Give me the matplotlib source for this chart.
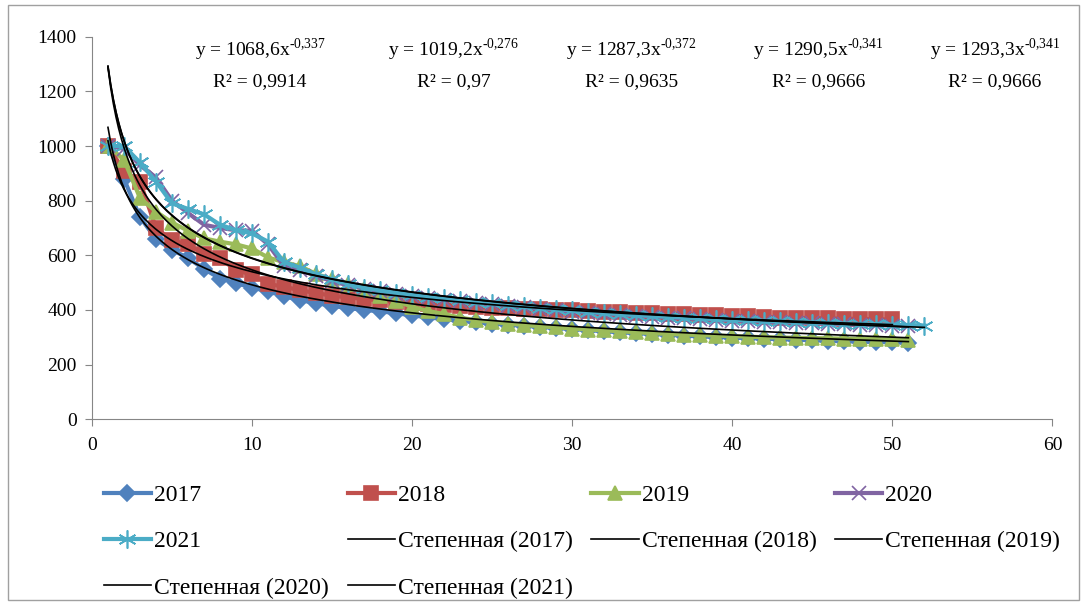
import numpy as np
import matplotlib
matplotlib.use('Agg')
from matplotlib import pyplot as plt
from matplotlib.patches import Rectangle

plt.rcParams['font.family'] = ['Liberation Serif', 'DejaVu Serif']
plt.rcParams['mathtext.fontset'] = 'custom'
plt.rcParams['mathtext.rm'] = 'Liberation Serif'

# weekly index values
y2017 = [1000, 880, 740, 660, 620, 590, 550, 515, 498, 482, 468, 450, 436, 425, 415, 407, 400, 395, 388, 380,
         373, 366, 360, 355, 350, 346, 342, 338, 334, 330, 326, 322, 318, 315, 312, 309, 306, 303, 301, 299,
         297, 295, 293, 291, 289, 287, 285, 284, 283, 281, 280]
y2018 = [1000, 910, 870, 700, 655, 640, 605, 590, 545, 530, 495, 485, 472, 462, 452, 446, 440, 435, 430, 425,
         420, 417, 414, 411, 408, 406, 404, 402, 400, 398, 396, 394, 392, 390, 388, 386, 384, 382, 380, 378,
         376, 374, 372, 371, 370, 369, 368, 367, 366, 365]
y2019 = [1000, 950, 810, 760, 720, 690, 662, 650, 640, 625, 592, 575, 560, 532, 512, 495, 475, 452, 432, 412,
         396, 385, 372, 362, 356, 350, 345, 340, 336, 332, 328, 325, 322, 318, 315, 312, 310, 308, 306, 304,
         302, 300, 299, 298, 297, 296, 295, 294, 293, 292, 290]
y2020 = [1000, 990, 930, 885, 800, 755, 712, 700, 692, 690, 640, 560, 545, 525, 505, 490, 478, 468, 460, 452,
         445, 438, 432, 426, 420, 414, 409, 404, 399, 394, 390, 386, 382, 378, 375, 372, 369, 366, 363, 361,
         359, 357, 355, 353, 351, 349, 347, 345, 344, 343, 342]
y2021 = [1000, 1000, 940, 870, 790, 770, 750, 712, 692, 680, 650, 575, 555, 530, 512, 496, 482, 472, 463, 455,
         448, 442, 436, 430, 424, 418, 413, 408, 403, 398, 393, 389, 385, 381, 378, 375, 372, 369, 366, 364,
         362, 360, 358, 356, 354, 352, 350, 348, 347, 346, 345, 343]

years = ['2017', '2018', '2019', '2020', '2021']
series = [y2017, y2018, y2019, y2020, y2021]
colors = ['#4F81BD', '#C0504D', '#9BBB59', '#8064A2', '#4BACC6']
markers = ['D', 's', '^', 'x', (6, 2, 0)]
msizes = [8, 10, 10, 10, 13]

# power trendline coefficients y = a * x^b, R^2 (from the chart labels)
trend_a = [1068.6, 1019.2, 1287.3, 1290.5, 1293.3]
trend_b = [-0.337, -0.276, -0.372, -0.341, -0.341]
trend_a_txt = ['1068,6', '1019,2', '1287,3', '1290,5', '1293,3']
trend_b_txt = ['-0,337', '-0,276', '-0,372', '-0,341', '-0,341']
r2_txt = ['0,9914', '0,97', '0,9635', '0,9666', '0,9666']
label_x = [10.5, 22.6, 33.7, 45.4, 56.4]

fig = plt.figure(figsize=(10.87, 6.04), dpi=100)
ax = fig.add_axes([0.0846, 0.306, 0.8836, 0.633])

fig.patches.append(Rectangle((0.007, 0.006), 0.986, 0.986, transform=fig.transFigure,
                             fill=False, edgecolor='#a0a0a0', linewidth=1))

handles = {}
for yr, ys, c, m, ms in zip(years, series, colors, markers, msizes):
    x = np.arange(1, len(ys) + 1)
    h, = ax.plot(x, ys, color=c, linewidth=3, marker=m, markersize=ms,
                 markeredgecolor=c, markerfacecolor=c, markeredgewidth=1.2,
                 solid_joinstyle='round', label=yr)
    handles[yr] = h

for yr, ys, a, b in zip(years, series, trend_a, trend_b):
    xt = np.linspace(1, len(ys), 300)
    h, = ax.plot(xt, a * xt ** b, color='black', linewidth=1.2, label='Степенная (%s)' % yr)
    handles['t' + yr] = h

for lx, at, bt, rt in zip(label_x, trend_a_txt, trend_b_txt, r2_txt):
    bt_m = bt.replace(',', '{,}').replace('-', '\u2010')
    ax.text(lx, 1352, r'y = %sx$^{\mathregular{%s}}$' % (at, bt_m), ha='center', va='center', fontsize=14)
    ax.text(lx, 1235, 'R² = %s' % rt, ha='center', va='center', fontsize=14)

ax.set_xlim(0, 60)
ax.set_ylim(0, 1400)
ax.set_xticks(range(0, 61, 10))
ax.set_yticks(range(0, 1401, 200))
for s in ['top', 'right']:
    ax.spines[s].set_visible(False)
for s in ['left', 'bottom']:
    ax.spines[s].set_color('#868686')
ax.tick_params(direction='out', length=5, color='#868686', labelsize=14, labelcolor='black')
ax.tick_params(axis='x', pad=8)
ax.tick_params(axis='y', pad=6)

order = ['2017', '2021', 't2020', '2018', 't2017', 't2021', '2019', 't2018', '2020', 't2019']
leg = fig.legend([handles[k] for k in order], [handles[k].get_label() for k in order],
                 loc='upper left', bbox_to_anchor=(0.0955, 0.198), ncol=4, frameon=False,
                 fontsize=17, handlelength=2.0, handletextpad=0.13, columnspacing=0.79,
                 labelspacing=1.05, borderaxespad=0, borderpad=0)

plt.savefig('out.png')
